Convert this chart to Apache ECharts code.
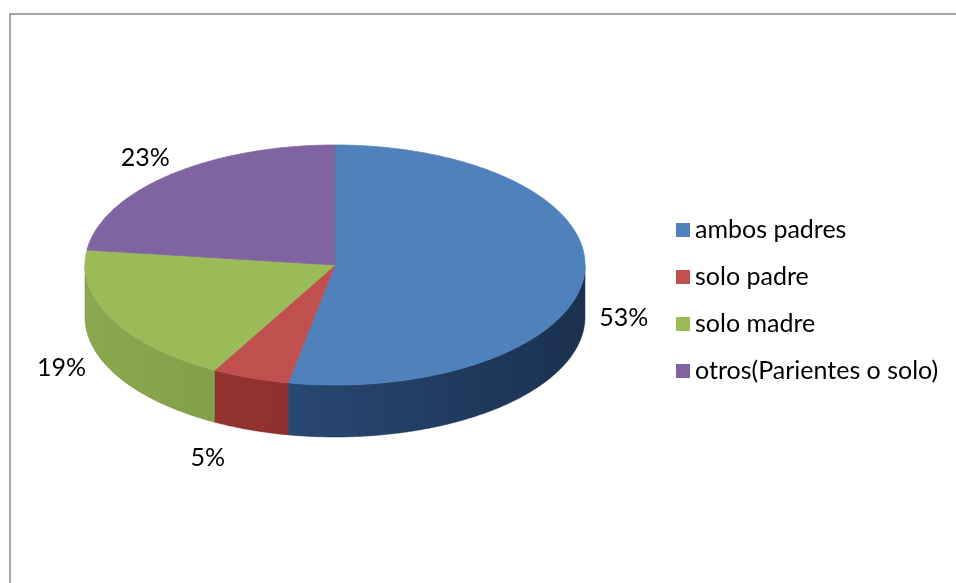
<!DOCTYPE html>
<html>
<head>
<meta charset="utf-8">
<script src="https://cdn.jsdelivr.net/npm/echarts@6/dist/echarts.min.js"></script>
<style>
html,body{margin:0;padding:0;background:#fff;}
#chart{width:956px;height:583px;}
</style>
</head>
<body>
<div id="chart"></div>
<script>
// ---- data ----
const categories = ['ambos padres', 'solo padre', 'solo madre', 'otros(Parientes o solo)'];
const values = [53, 5, 19, 23];

// ---- layout & style ----
const topColors  = ['#4F81BD', '#C0504D', '#9BBB59', '#8064A2'];
const sideLight  = ['#30598A', '#9A3734', '#8AA84F', '#6C5290'];
const sideDark   = ['#1B3150', '#7E2725', '#708C3C', '#533C73'];
const CX = 335, CY = 265, RX = 250, RY = 120, DEPTH = 52;
const labelNudge = [[0, -13], [-29, 0], [-15, -17], [2, 5]];
const FONT = 'Lato, "Noto Sans", sans-serif';

const total = values.reduce((a, b) => a + b, 0);
const TAU = Math.PI * 2;

function pt(a, dy) {
  return [CX + RX * Math.sin(a), CY - RY * Math.cos(a) + (dy || 0)];
}
function arc(a0, a1, dy) {
  const n = Math.max(2, Math.ceil((a1 - a0) / 0.01));
  const out = [];
  for (let k = 0; k <= n; k++) out.push(pt(a0 + (a1 - a0) * k / n, dy));
  return out;
}

function renderItem(params, api) {
  const i = params.dataIndex;
  let before = 0;
  for (let k = 0; k < i; k++) before += values[k];
  const v = api.value(0);
  const a0 = before / total * TAU;
  const a1 = (before + v) / total * TAU;
  const children = [];

  // side wall (front half only)
  const s0 = Math.max(a0, Math.PI / 2), s1 = Math.min(a1, Math.PI * 1.5);
  if (s1 > s0) {
    const pts = arc(s0, s1, 0).concat(arc(s0, s1, DEPTH).reverse());
    children.push({
      type: 'polygon',
      shape: { points: pts },
      style: {
        fill: new echarts.graphic.LinearGradient(CX - RX, 0, CX + RX, 0, [
          { offset: 0, color: sideLight[i] },
          { offset: 1, color: sideDark[i] }
        ], true),
        stroke: sideDark[i], lineWidth: 0.5
      }
    });
  }
  // top face
  const topPts = [[CX, CY]].concat(arc(a0, a1, 0));
  children.push({
    type: 'polygon',
    shape: { points: topPts },
    style: { fill: topColors[i], stroke: topColors[i], lineWidth: 0.8 }
  });

  // label
  const mid = (a0 + a1) / 2;
  const c = Math.cos(mid), s = Math.sin(mid);
  const lx = CX + (RX + 40) * s + labelNudge[i][0];
  const ly = CY - (RY + 30) * c + (c < 0 ? DEPTH : 0) + labelNudge[i][1];
  children.push({
    type: 'text',
    x: lx, y: ly,
    style: {
      text: Math.round(v / total * 100) + '%',
      fill: '#000', font: '25px ' + FONT,
      align: 'center', verticalAlign: 'middle'
    }
  });
  return { type: 'group', children: children };
}

const chart = echarts.init(document.getElementById('chart'));
chart.setOption({
  animation: false,
  color: topColors,
  graphic: [{
    type: 'rect', z: -10,
    shape: { x: 10, y: 14, width: 1000, height: 1000 },
    style: { fill: 'none', stroke: '#898989', lineWidth: 1.5 }
  }],
  legend: {
    orient: 'vertical',
    left: 676, top: 216,
    padding: 0,
    data: categories,
    icon: 'rect',
    itemWidth: 14, itemHeight: 14,
    itemGap: 19,
    textStyle: { fontFamily: FONT, fontSize: 25, color: '#000', lineHeight: 28 }
  },
  series: [
    {
      type: 'custom',
      name: 'pie3d',
      coordinateSystem: 'none',
      renderItem: renderItem,
      data: values.map((v, i) => ({ name: categories[i], value: v })),
      silent: true
    },
    {
      type: 'pie',
      name: 'legendProxy',
      center: [CX, CY],
      radius: [0, 0],
      label: { show: false },
      labelLine: { show: false },
      silent: true,
      data: values.map((v, i) => ({ name: categories[i], value: v }))
    }
  ]
});
</script>
</body>
</html>
